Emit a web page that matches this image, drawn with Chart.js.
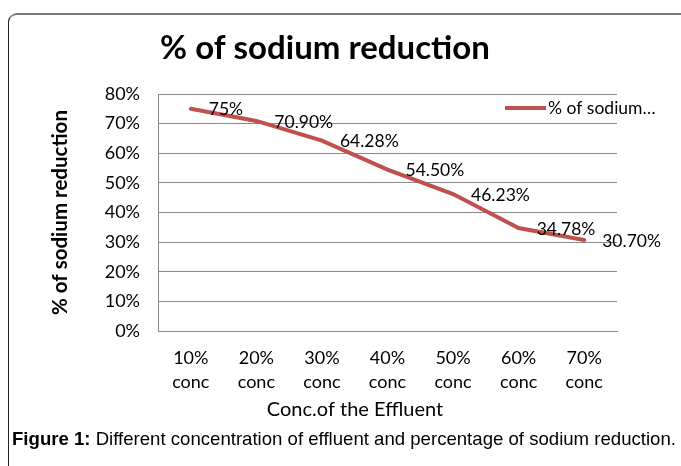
<!DOCTYPE html>
<html>
<head>
<meta charset="utf-8">
<script src="https://cdn.jsdelivr.net/npm/chart.js@4.4.1/dist/chart.umd.min.js"></script>
<style>
  html, body { margin: 0; padding: 0; background: #fff; }
  body { width: 681px; height: 466px; position: relative; overflow: hidden; }
  #frame {
    position: absolute; left: 8px; top: 13px; width: 720px; height: 500px;
    border-top: 2px solid #7a7a7a; border-left: 1px solid #222;
    border-top-left-radius: 9px; box-sizing: border-box;
  }
  #chart { position: absolute; left: 0; top: 0; }
  #caption {
    position: absolute; left: 12px; top: 429px;
    font-family: "Liberation Sans", Arial, sans-serif; font-size: 18.6px;
    line-height: 20px; color: #000; white-space: nowrap;
  }
</style>
</head>
<body>
<div id="frame"></div>
<canvas id="chart" width="681" height="466"></canvas>
<div id="caption"><b>Figure 1:</b> Different concentration of effluent and percentage of sodium reduction.</div>
<script>
const categories = [
  ["10%", "conc"], ["20%", "conc"], ["30%", "conc"], ["40%", "conc"],
  ["50%", "conc"], ["60%", "conc"], ["70%", "conc"]
];
const reduction = [75, 70.9, 64.28, 54.5, 46.23, 34.78, 30.7];
const pointLabels = ["75%", "70.90%", "64.28%", "54.50%", "46.23%", "34.78%", "30.70%"];
const yTicks = [0, 10, 20, 30, 40, 50, 60, 70, 80];

const chartTitle = "% of sodium reduction";
const xTitle = "Conc.of the Effluent";
const yTitle = "% of sodium reduction";
const seriesName = "% of sodium reduction";

const FONT = "Lato, 'Open Sans', sans-serif";
const RED = "#C0504D";

// titles, legend and value labels drawn on top of the chart
const decorations = {
  id: "decorations",
  afterDatasetsDraw(chart) {
    const { ctx, chartArea } = chart;
    ctx.save();
    ctx.fillStyle = "#000";

    ctx.font = "bold 33px " + FONT;
    ctx.textAlign = "center";
    ctx.textBaseline = "middle";
    ctx.fillText(chartTitle, 325, 48);

    ctx.font = "20px " + FONT;
    ctx.fillText(xTitle, 355, 410);

    // value labels
    ctx.font = "17.5px " + FONT;
    ctx.textAlign = "left";
    chart.getDatasetMeta(0).data.forEach((pt, i) => {
      ctx.fillText(pointLabels[i], pt.x + 18, pt.y + 1);
    });

    // legend
    const lx = chartArea.right - 112, ly = chartArea.top + 14;
    ctx.strokeStyle = RED;
    ctx.lineWidth = 4;
    ctx.beginPath();
    ctx.moveTo(lx, ly);
    ctx.lineTo(lx + 41, ly);
    ctx.stroke();
    ctx.font = "17.5px " + FONT;
    ctx.fillText(seriesName.slice(0, 11) + "\u2026", lx + 43, ly);
    ctx.restore();
  }
};

new Chart(document.getElementById("chart"), {
  type: "line",
  data: {
    labels: categories,
    datasets: [{
      label: seriesName,
      data: reduction,
      borderColor: RED,
      backgroundColor: RED,
      borderWidth: 4,
      borderCapStyle: "round",
      pointRadius: 0,
      tension: 0
    }]
  },
  options: {
    responsive: false,
    animation: false,
    layout: { padding: { left: 0, right: 64, top: 94, bottom: 0 } },
    plugins: {
      legend: { display: false },
      tooltip: { enabled: false },
      title: { display: false }
    },
    scales: {
      x: {
        offset: true,
        grid: { display: false, drawTicks: false },
        border: { color: "#8a8a8a", width: 1 },
        ticks: {
          color: "#000", padding: 15, maxRotation: 0,
          font: { family: FONT, size: 18, lineHeight: 1.35 }
        },
        afterFit: s => { s.height = 135; }
      },
      y: {
        min: 0, max: 80,
        afterBuildTicks: s => { s.ticks = yTicks.map(v => ({ value: v })); },
        grid: { color: "#8a8a8a", drawTicks: false },
        border: { color: "#8a8a8a", width: 1 },
        ticks: {
          color: "#000", padding: 18,
          font: { family: FONT, size: 18 },
          callback: v => v + "%"
        },
        title: {
          display: true, text: yTitle, color: "#000",
          font: { family: FONT, size: 20.5, weight: "bold" },
          padding: { top: 48, bottom: 0 }
        },
        afterFit: s => { s.width = 158; }
      }
    }
  },
  plugins: [decorations]
});
</script>
</body>
</html>
